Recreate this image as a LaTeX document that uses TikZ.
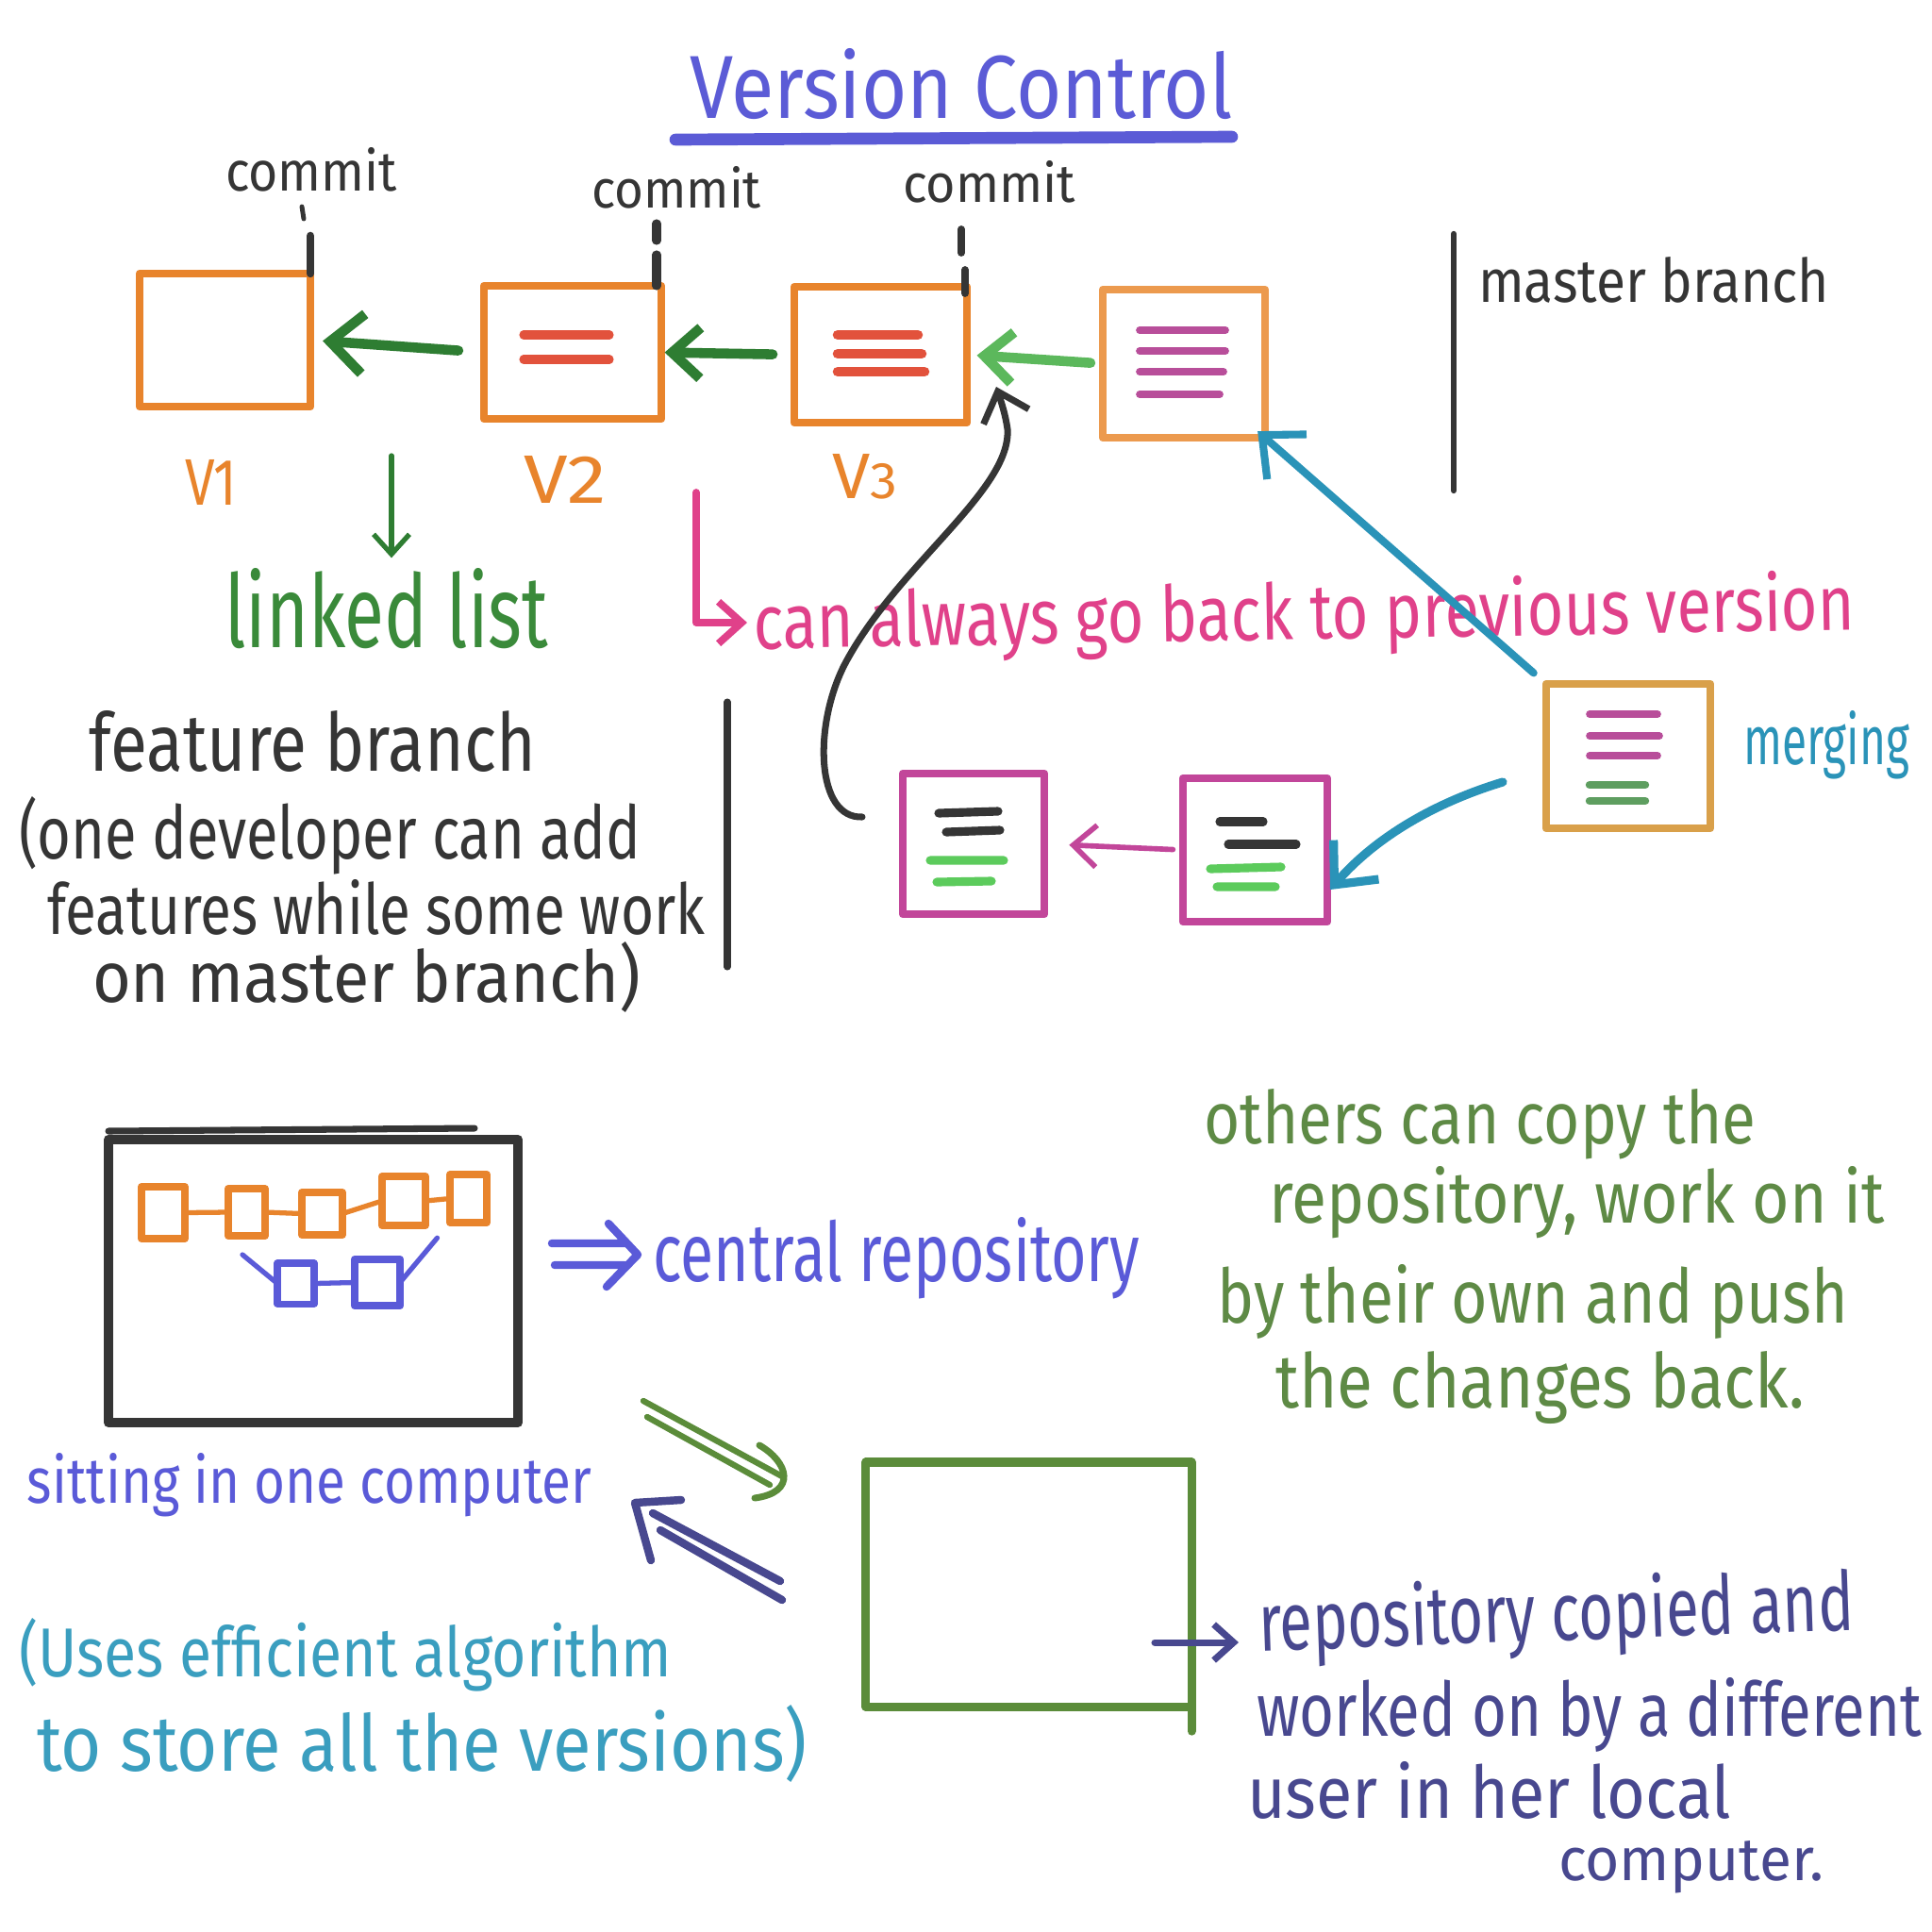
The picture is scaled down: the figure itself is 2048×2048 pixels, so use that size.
\documentclass[tikz,border=0pt]{standalone}
\usepackage{fontspec}
\setmainfont{Fira Sans}
\usetikzlibrary{arrows.meta,calc}
\newcommand{\hw}[3]{\resizebox{#1}{#2}{#3}}
\definecolor{cTitle}{HTML}{5B5BD6}
\definecolor{cBlack}{HTML}{353535}
\definecolor{cOrange}{HTML}{E8842C}
\definecolor{cOrangeL}{HTML}{EC9A4E}
\definecolor{cRed}{HTML}{E2523C}
\definecolor{cPurple}{HTML}{B84E9A}
\definecolor{cGreenD}{HTML}{2E7D32}
\definecolor{cGreenL}{HTML}{5CB85C}
\definecolor{cGreenT}{HTML}{3A8A3A}
\definecolor{cPink}{HTML}{E0418A}
\definecolor{cTeal}{HTML}{2A93B8}
\definecolor{cTan}{HTML}{D9A04A}
\definecolor{cMag}{HTML}{C2469A}
\definecolor{cGreenIn}{HTML}{5CCB5C}
\definecolor{cGreenM}{HTML}{5E9E60}
\definecolor{cBlue}{HTML}{5A5AD8}
\definecolor{cGreenB}{HTML}{5B8C3A}
\definecolor{cGreenTx}{HTML}{5E8A45}
\definecolor{cNavy}{HTML}{48488F}
\definecolor{cTealTx}{HTML}{3A9EBF}
\tikzset{
  pen/.style={line width=2.4pt, line cap=round, line join=round},
  boxn/.style={pen, inner sep=0pt, outer sep=0pt},
  txt/.style={inner sep=0pt, outer sep=0pt, anchor=base west},
  stroke/.style={line width=2.6pt, line cap=round},
  barb/.style={-{Straight Barb[length=#1, width=1.8*#1]}},
  barb/.default=9pt
}
\begin{document}
\begin{tikzpicture}[x=0.01cm,y=-0.01cm]
\useasboundingbox (0,0) rectangle (2048,2048);
\fill[white] (0,0) rectangle (2048,2048);

% title
\node[txt, text=cTitle] (title) at (731,125) {\hw{5.75cm}{0.74cm}{Version Control}};
\draw[cTitle, line width=3.6pt, line cap=round] (716,148) -- (1306,145);

% master branch boxes
\node[boxn, draw=cOrange, minimum width=1.81cm, minimum height=1.41cm] (v1) at (238.5,360.5) {};
\node[boxn, draw=cOrange, minimum width=1.88cm, minimum height=1.41cm] (v2) at (607,373.5) {};
\node[boxn, draw=cOrange, minimum width=1.83cm, minimum height=1.44cm] (v3) at (933.5,376) {};
\node[boxn, draw=cOrangeL, minimum width=1.72cm, minimum height=1.57cm] (v4) at (1255,385.5) {};

\draw[stroke, cRed] (555,355) -- (646,355) (555,381) -- (646,381);
\draw[stroke, cRed, line width=3pt] (888,355) -- (973,355) (888,375) -- (977,375) (888,394) -- (980,394);
\draw[stroke, cPurple, line width=2.2pt] (1208,350) -- (1299,350) (1208,372) -- (1299,372) (1208,394) -- (1297,394) (1208,418) -- (1293,418);

\draw[stroke, cGreenD, line width=3pt, barb=10pt, shorten <=7.7pt, shorten >=3.7pt] (v2.west) -- (v1.east);
\draw[stroke, cGreenD, line width=3pt, barb=8.5pt, shorten <=6.5pt, shorten >=1pt] (v3.west) -- (v2.east);
\draw[stroke, cGreenL, line width=3pt, barb=8.5pt, shorten <=3.7pt, shorten >=3pt] (v4.west) -- (v3.east);

% commit labels
\node[txt, text=cBlack] (c1) at (239,202) {\hw{1.82cm}{0.46cm}{commit}};
\node[txt, text=cBlack] (c2) at (627,220) {\hw{1.80cm}{0.44cm}{commit}};
\node[txt, text=cBlack] (c3) at (957,214) {\hw{1.83cm}{0.44cm}{commit}};
\draw[cBlack, line width=2.4pt, line cap=round] (v1.north east) -- ++(0,-40);
\draw[cBlack, line width=1.4pt, line cap=round] (320,219) -- (322,232);
\draw[cBlack, line width=2.6pt, line cap=round] (696,303) -- (696,270) (696,255) -- (696,237);
\draw[cBlack, line width=2.2pt, line cap=round] (1023,311) -- (1023,286) (1019,268) -- (1019,243);

% master branch label
\node[txt, text=cBlack] (mb) at (1567,320) {\hw{3.72cm}{0.48cm}{master branch}};
\draw[cBlack, line width=1.8pt, line cap=round] (1541,248) -- (1541,520);

% version labels
\node[txt, text=cOrange] (l1) at (196,535) {\hw{0.55cm}{0.48cm}{V1}};
\node[txt, text=cOrange] (l2) at (555,533) {\hw{0.88cm}{0.50cm}{V2}};
\node[txt, text=cOrange] (l3) at (882,528) {\hw{0.69cm}{0.47cm}{V{\footnotesize 3}}};

% linked list
\node[txt, text=cGreenT] (ll) at (238,686) {\hw{3.43cm}{0.84cm}{linked list}};
\coordinate (lls) at (415,483);
\draw[cGreenD, line width=1.5pt, line cap=round, barb=6pt, shorten >=3pt] (lls) -- (lls |- ll.north);

% pink note
\node[txt, text=cPink, rotate=1] (pk) at (799,688) {\hw{11.67cm}{0.64cm}{can always go back to previous version}};
\coordinate (pk0) at (738,522);
\coordinate (pk1) at (792,660);
\draw[cPink, line width=2.2pt, line cap=round, line join=round, barb=7pt] (pk0) |- (pk1);

% feature branch boxes
\node[boxn, draw=cMag, minimum width=1.50cm, minimum height=1.49cm] (fa) at (1032,894.5) {};
\node[boxn, draw=cMag, minimum width=1.53cm, minimum height=1.52cm] (fb) at (1330.5,901) {};
\draw[stroke, cBlack] (995,862) -- (1058,860) (1003,882) -- (1060,880);
\draw[stroke, cGreenIn] (986,912) -- (1064,912) (993,935) -- (1051,934);
\draw[stroke, cBlack] (1293,871) -- (1339,871) (1302,895) -- (1374,895);
\draw[stroke, cGreenIn] (1283,921) -- (1358,919) (1290,940) -- (1352,940);
\draw[cMag, line width=1.6pt, line cap=round, barb=7pt, shorten <=3pt, shorten >=7.5pt] (fb.west) -- (fa.east);

% merge box
\node[boxn, draw=cTan, minimum width=1.74cm, minimum height=1.53cm] (mg) at (1726,801.5) {};
\draw[stroke, cPurple, line width=2.2pt] (1685,757) -- (1757,757) (1685,780) -- (1759,780) (1685,801) -- (1757,801);
\draw[stroke, cGreenM, line width=2.4pt] (1685,832) -- (1744,832) (1685,849) -- (1744,849);
\node[txt, text=cTeal] (mt) at (1848,810) {\hw{1.76cm}{0.57cm}{merging}};

\draw[cTeal, line width=2.3pt, line cap=round, barb=10pt, shorten <=5pt, shorten >=-3pt] (mg.north west) -- (v4.south east);
\coordinate (m2s) at (1593,829);
\coordinate (m2e) at (1410,943);
\draw[cTeal, line width=2.6pt, line cap=round, barb=10pt] (m2s) .. controls (1517,852) and (1456,890) .. (m2e);

% black curve back to V3
\coordinate (cb0) at (914,866);
\coordinate (cb1) at (1056,410);
\draw[cBlack, line width=2pt, line cap=round, barb=8pt] (cb0) .. controls (865,868) and (862,770) .. (895,705) .. controls (950,600) and (1072,520) .. (1068,455) .. controls (1066,440) and (1061,425) .. (cb1);

% feature branch text
\node[txt, text=cBlack] (f1) at (94,817) {\hw{4.74cm}{0.64cm}{feature branch}};
\node[txt, text=cBlack] (f2) at (20,910) {\hw{6.59cm}{0.66cm}{(one developer can add}};
\node[txt, text=cBlack] (f3) at (50,990) {\hw{6.97cm}{0.58cm}{features while some work}};
\node[txt, text=cBlack] (f4) at (98,1062) {\hw{5.81cm}{0.64cm}{on master branch)}};
\draw[cBlack, line width=2pt, line cap=round] (771,744) -- (771,1025);

% central repository
\node[boxn, draw=cBlack, line width=2.8pt, minimum width=4.34cm, minimum height=3.0cm] (repo) at (332,1358) {};
\draw[cBlack, line width=2pt, line cap=round] (115,1199) -- (503,1196);
\node[boxn, draw=cOrange, line width=2.2pt, minimum width=0.46cm, minimum height=0.55cm] (ob1) at (173,1285.5) {};
\node[boxn, draw=cOrange, line width=2.2pt, minimum width=0.39cm, minimum height=0.50cm] (ob2) at (261.5,1285) {};
\node[boxn, draw=cOrange, line width=2.2pt, minimum width=0.43cm, minimum height=0.45cm] (ob3) at (341.5,1286.5) {};
\node[boxn, draw=cOrange, line width=2.2pt, minimum width=0.46cm, minimum height=0.52cm] (ob4) at (428,1273) {};
\node[boxn, draw=cOrange, line width=2.2pt, minimum width=0.39cm, minimum height=0.51cm] (ob5) at (496.5,1270.5) {};
\draw[cOrange, line width=1.5pt] (ob1.east) -- (ob2.west) (ob2.east) -- (ob3.west) (ob3.east) -- (ob4.west) (ob4.east) -- (ob5.west);
\node[boxn, draw=cBlue, line width=2pt, minimum width=0.39cm, minimum height=0.43cm] (bb1) at (313.5,1360.5) {};
\node[boxn, draw=cBlue, line width=2.4pt, minimum width=0.48cm, minimum height=0.49cm] (bb2) at (400,1359.5) {};
\coordinate (dl1) at (257,1330);
\draw[cBlue, line width=1.5pt, line cap=round] (dl1) -- (bb1.west) (bb1.east) -- (bb2.west);
\draw[cBlue, line width=1.5pt, line cap=round, shorten >=6pt] (bb2.east) -- (ob5.south west);

% implies arrow to label
\node[txt, text=cBlue] (cr) at (692,1358) {\hw{5.16cm}{0.68cm}{central repository}};
\coordinate (ia1) at (585,1318);
\coordinate (ia2) at (588,1341);
\coordinate (iat) at (676,1330);
\draw[cBlue, line width=2.4pt, line cap=round, line join=round] (ia1) -- (662,1318) (ia2) -- (662,1341) (645,1297) -- (iat) -- (643,1364);

\node[txt, text=cBlue] (sit) at (29,1593) {\hw{5.98cm}{0.53cm}{sitting in one computer}};

% local copy
\node[boxn, draw=cGreenB, line width=2.6pt, minimum width=3.45cm, minimum height=2.59cm] (loc) at (1090.5,1679.5) {};
\draw[cGreenB, line width=2.6pt, line cap=round] (loc.south east) -- ++(0,26);

% double arrows
\coordinate (ga1) at (682,1485);
\coordinate (ga2) at (829,1565);
\coordinate (ga3) at (686,1502);
\coordinate (ga4) at (816,1574);
\draw[cGreenB, line width=1.8pt, line cap=round] (ga1) -- (ga2) (ga3) -- (ga4);
\draw[cGreenB, line width=2pt, line cap=round] (805,1532) .. controls (836,1550) and (845,1582) .. (800,1588);
\coordinate (na1) at (827,1676);
\coordinate (na2) at (692,1604);
\coordinate (na3) at (829,1696);
\coordinate (na4) at (700,1622);
\coordinate (nat) at (673,1593);
\draw[cNavy, line width=2.4pt, line cap=round, line join=round] (na1) -- (na2) (na3) -- (na4) (722,1590) -- (nat) -- (690,1654);

% description of the copy
\node[txt, text=cNavy, rotate=2] (d1) at (1335,1750) {\hw{6.31cm}{0.68cm}{repository copied and}};
\node[txt, text=cNavy] (d2) at (1332,1840) {\hw{7.05cm}{0.62cm}{worked on by a different}};
\node[txt, text=cNavy] (d3) at (1322,1927) {\hw{5.13cm}{0.60cm}{user in her local}};
\node[txt, text=cNavy] (d4) at (1652,1993) {\hw{2.81cm}{0.42cm}{computer.}};
\coordinate (na0) at (1224,1741);
\coordinate (na5) at (1313,1741);
\draw[cNavy, line width=2pt, line cap=round, barb=6pt] (na0) -- (na5);

% green notes
\node[txt, text=cGreenTx] (g1) at (1276,1212) {\hw{5.85cm}{0.58cm}{others can copy the}};
\node[txt, text=cGreenTx] (g2) at (1345,1296) {\hw{6.53cm}{0.60cm}{repository, work on it}};
\node[txt, text=cGreenTx] (g3) at (1290,1402) {\hw{6.69cm}{0.62cm}{by their own and push}};
\node[txt, text=cGreenTx] (g4) at (1352,1492) {\hw{5.61cm}{0.60cm}{the changes back.}};

% teal notes
\node[txt, text=cTealTx] (t1) at (20,1777) {\hw{6.92cm}{0.62cm}{(Uses efficient algorithm}};
\node[txt, text=cTealTx] (t2) at (39,1877) {\hw{8.16cm}{0.70cm}{to store all the versions)}};
\end{tikzpicture}
\end{document}
